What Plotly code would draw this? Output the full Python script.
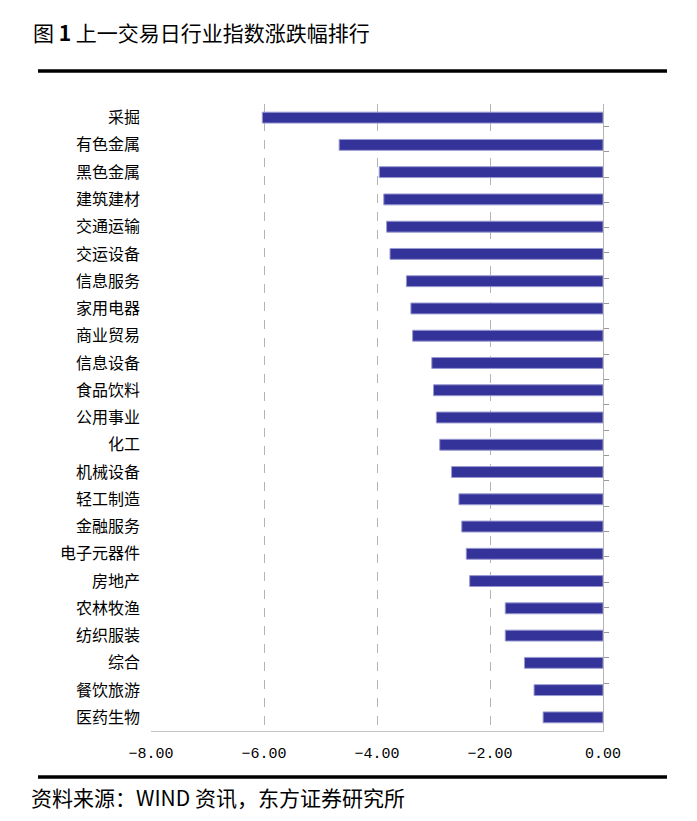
import plotly.graph_objects as go

categories = ["采掘", "有色金属", "黑色金属", "建筑建材", "交通运输", "交运设备", "信息服务",
              "家用电器", "商业贸易", "信息设备", "食品饮料", "公用事业", "化工", "机械设备",
              "轻工制造", "金融服务", "电子元器件", "房地产", "农林牧渔", "纺织服装", "综合",
              "餐饮旅游", "医药生物"]
values = [-6.03, -4.67, -3.96, -3.88, -3.83, -3.77, -3.48, -3.40, -3.37, -3.03, -3.00, -2.95,
          -2.89, -2.68, -2.55, -2.50, -2.42, -2.36, -1.73, -1.73, -1.39, -1.22, -1.06]
x_ticks = [-8, -6, -4, -2, 0]
title_text = "图 <b>1</b> 上一交易日行业指数涨跌幅排行"
source_text = "资料来源：WIND 资讯，东方证券研究所"

OFF = 8  # page body margin
W, H = 697 - OFF, 821 - OFF
L, R, T, B = 151 - OFF, 603 - OFF, 104 - OFF, 731 - OFF


def px_x(p):
    return (p - OFF - L) / (R - L)


def px_y(p):
    return (B - (p - OFF)) / (B - T)


fig = go.Figure()
fig.add_trace(go.Bar(
    x=values, y=categories, orientation="h",
    marker=dict(color="#333399", line=dict(color="#9a9ad2", width=1)),
    hoverinfo="x+y", showlegend=False,
))
fig.add_trace(go.Scatter(
    x=values, y=categories, yaxis="y2", mode="markers",
    marker=dict(opacity=0), hoverinfo="skip", showlegend=False,
))

fig.update_layout(
    width=W, height=H,
    margin=dict(l=L, r=W - R, t=T, b=H - B),
    paper_bgcolor="white", plot_bgcolor="white",
    bargap=0.6,
    font=dict(family="Noto Sans CJK SC", color="black"),
    xaxis=dict(
        range=[-8, 0], tickvals=x_ticks, tickformat=".2f",
        showgrid=True, gridcolor="#b4b4b4", griddash="dash", gridwidth=1,
        zeroline=False, showline=True, linecolor="#c4c4c4", linewidth=1,
        ticks="", ticklabelstandoff=8,
        tickfont=dict(family="Liberation Mono", size=15, color="black"),
    ),
    yaxis=dict(
        categoryorder="array", categoryarray=categories, autorange="reversed",
        showgrid=False, showline=False, ticks="", zeroline=False,
        ticklabelstandoff=10,
        tickfont=dict(family="Noto Sans CJK SC", size=16, color="black"),
    ),
    yaxis2=dict(
        overlaying="y", side="right", anchor="x",
        categoryorder="array", categoryarray=categories, autorange="reversed",
        showgrid=False, zeroline=False, showline=True, linecolor="#b4b4b4", linewidth=1,
        ticks="outside", ticklen=5, tickcolor="#999999", tickson="boundaries",
        showticklabels=False,
    ),
    shapes=[
        dict(type="line", xref="paper", yref="paper", x0=px_x(38), x1=px_x(667),
             y0=px_y(71), y1=px_y(71), line=dict(color="black", width=3.5)),
        dict(type="line", xref="paper", yref="paper", x0=px_x(38), x1=px_x(667),
             y0=px_y(777), y1=px_y(777), line=dict(color="black", width=3.5)),
    ],
    annotations=[
        dict(text=title_text, xref="paper", yref="paper", x=px_x(31), y=px_y(32),
             xanchor="left", yanchor="middle", showarrow=False,
             font=dict(family="Noto Sans CJK SC", size=21, color="black")),
        dict(text=source_text, xref="paper", yref="paper", x=px_x(29), y=px_y(797),
             xanchor="left", yanchor="middle", showarrow=False,
             font=dict(family="Noto Sans CJK SC", size=21, color="black")),
    ],
)

fig.write_html("out.html")
